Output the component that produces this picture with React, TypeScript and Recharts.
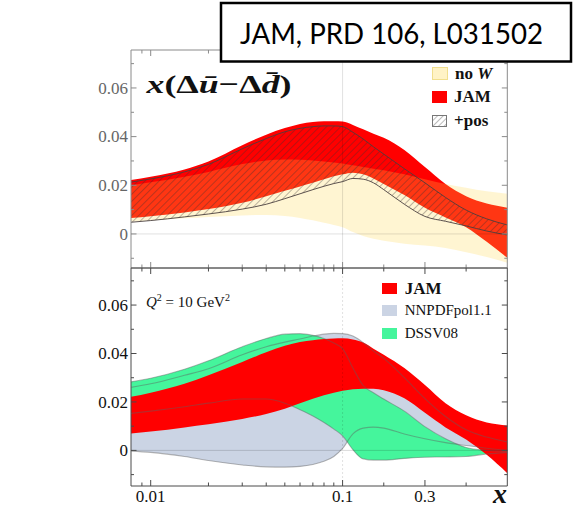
import React from 'react';
import { ComposedChart, Area, Line, XAxis, YAxis, ReferenceLine, ReferenceArea, Legend } from 'recharts';

// sampled x values (shared by both panels)
const X_VALUES = [0.0079, 0.01, 0.015, 0.02, 0.03, 0.04, 0.05, 0.06, 0.07, 0.08, 0.09, 0.1, 0.125, 0.15, 0.175, 0.2, 0.25, 0.3, 0.35, 0.4, 0.45, 0.5];

// upper panel bands
const NOW_LO = [0.005, 0.0055, 0.0064, 0.007, 0.0076, 0.0078, 0.0074, 0.0066, 0.0056, 0.0046, 0.0037, 0.0028, 0.0008, -0.0008, -0.002, -0.0028, -0.004, -0.0048, -0.0058, -0.0075, -0.0095, -0.0118];
const NOW_HI = [0.02, 0.0212, 0.0235, 0.0255, 0.0287, 0.0302, 0.0306, 0.0305, 0.0302, 0.0298, 0.0294, 0.029, 0.0282, 0.0275, 0.0268, 0.0262, 0.0245, 0.0225, 0.0205, 0.019, 0.0175, 0.0165];
const JAM_LO = [0.0066, 0.0073, 0.0088, 0.0102, 0.0128, 0.0155, 0.0177, 0.0195, 0.021, 0.0225, 0.0237, 0.0245, 0.0252, 0.0245, 0.0228, 0.0205, 0.016, 0.0108, 0.0068, 0.0028, -0.0032, -0.0098];
const JAM_HI = [0.0222, 0.0235, 0.0265, 0.0298, 0.0365, 0.0408, 0.0435, 0.0452, 0.046, 0.0463, 0.0463, 0.0462, 0.0448, 0.043, 0.0412, 0.0395, 0.0345, 0.0275, 0.0205, 0.0155, 0.0125, 0.0108];
const POS_LO = [0.0048, 0.0055, 0.007, 0.0082, 0.0102, 0.0122, 0.0145, 0.0165, 0.0182, 0.0196, 0.0207, 0.0215, 0.0228, 0.0225, 0.021, 0.0182, 0.0122, 0.0072, 0.0052, 0.0033, 0.0012, -0.0004];
const POS_HI = [0.0213, 0.0226, 0.0255, 0.0286, 0.035, 0.0392, 0.042, 0.0434, 0.0441, 0.0444, 0.0444, 0.0441, 0.0418, 0.039, 0.0358, 0.0328, 0.0268, 0.021, 0.015, 0.0098, 0.0062, 0.0037];

// lower panel bands
const JAM2_LO = [0.007, 0.0078, 0.0095, 0.0108, 0.013, 0.015, 0.0172, 0.0195, 0.0213, 0.0228, 0.0238, 0.0246, 0.0252, 0.0255, 0.0255, 0.0248, 0.0215, 0.0155, 0.0095, 0.0045, -0.0018, -0.0094];
const JAM2_HI = [0.0221, 0.0238, 0.0275, 0.031, 0.0365, 0.0405, 0.0432, 0.0447, 0.0455, 0.046, 0.0462, 0.0463, 0.0458, 0.0445, 0.042, 0.0395, 0.034, 0.027, 0.0195, 0.0145, 0.0115, 0.0103];
const DSSV_LO = [0.0153, 0.0162, 0.018, 0.0195, 0.0212, 0.0212, 0.0195, 0.0168, 0.0142, 0.0115, 0.0088, 0.006, 0.0003, -0.0035, -0.004, -0.004, -0.0033, -0.0028, -0.0027, -0.0025, -0.0015, -0.0008];
const DSSV_HI = [0.0283, 0.0298, 0.0335, 0.037, 0.0428, 0.0462, 0.048, 0.0482, 0.0475, 0.0462, 0.0443, 0.042, 0.034, 0.0268, 0.0238, 0.0212, 0.0162, 0.0098, 0.0048, 0.0012, 0.0, -0.0004];
const NNPDF_LO = [-0.0003, -0.0008, -0.0025, -0.0042, -0.006, -0.0068, -0.0069, -0.0066, -0.0058, -0.0045, -0.0025, 0.0008, 0.0068, 0.0092, 0.0096, 0.0092, 0.0068, 0.0048, 0.0032, 0.002, 0.0009, 0.0];
const NNPDF_HI = [0.026, 0.0275, 0.031, 0.0337, 0.0395, 0.0428, 0.0447, 0.046, 0.0472, 0.048, 0.0483, 0.0482, 0.0472, 0.0445, 0.041, 0.038, 0.03, 0.0214, 0.014, 0.0085, 0.0055, 0.0035];

// ticks
const X_MAJOR = [0.01, 0.1, 0.3];
const X_MAJOR_LABELS = ['0.01', '0.1', '0.3'];
const X_MINOR = [0.009, 0.02, 0.03, 0.04, 0.05, 0.06, 0.07, 0.08, 0.09, 0.2, 0.4];
const Y_TICKS = [-0.01, 0, 0.01, 0.02, 0.03, 0.04, 0.05, 0.06, 0.07];

// axis is log below x=0.1 and linear above it
const LIN_RATE = 2.1458;
const toU = (x: number) => (x <= 0.1 ? Math.log10(x) : -1 + (x - 0.1) * LIN_RATE);
const U_MIN = -2.1026;
const U_MAX = toU(0.5);
const X_TICKS = [...X_MAJOR, ...X_MINOR].map(toU);

const W = 577;
const PLOT_L = 131;
const PLOT_R = 507.3;
const SERIF = '"Liberation Serif", "DejaVu Serif", serif';

const RED = '#ff0000';
const YELLOW = '#ffd84a';
const GREY_BLUE = '#cbd4e4';
const GREEN = '#45f59c';

const topRows = X_VALUES.map((x, i) => ({
  u: toU(x),
  noW: [NOW_LO[i], NOW_HI[i]],
  jam: [JAM_LO[i], JAM_HI[i]],
  pos: [POS_LO[i], POS_HI[i]],
}));

const bottomRows = X_VALUES.map((x, i) => ({
  u: toU(x),
  jam: [JAM2_LO[i], JAM2_HI[i]],
  dssv: [DSSV_LO[i], DSSV_HI[i]],
  nnpdf: [NNPDF_LO[i], NNPDF_HI[i]],
  dssvLo: DSSV_LO[i],
  dssvHi: DSSV_HI[i],
  nnpdfLo: NNPDF_LO[i],
  nnpdfHi: NNPDF_HI[i],
}));

const yTick = (frame: string, ink: string) => (props: any) => {
  const { y, payload } = props;
  const v: number = payload.value;
  const h = Math.round(v * 100);
  const major = h % 2 === 0;
  const len = major ? 5.5 : 3;
  const label = !major ? '' : h === 0 ? '0' : v.toFixed(2);
  return (
    <g>
      <line x1={PLOT_L} x2={PLOT_L + len} y1={y} y2={y} stroke={frame} />
      <line x1={PLOT_R} x2={PLOT_R - len} y1={y} y2={y} stroke={frame} />
      {label && (
        <text x={PLOT_L - 3} y={y} dy="0.34em" textAnchor="end" fontFamily={SERIF} fontSize={17} fill={ink}>
          {label}
        </text>
      )}
    </g>
  );
};

const xTick = (top: number, bottom: number, frame: string, labelY?: number) => (props: any) => {
  const { x, payload } = props;
  const k = X_MAJOR.findIndex((m) => Math.abs(toU(m) - payload.value) < 1e-6);
  const len = k >= 0 ? 6 : 3.5;
  return (
    <g>
      <line x1={x} x2={x} y1={bottom} y2={bottom - len} stroke={frame} />
      <line x1={x} x2={x} y1={top} y2={top + len} stroke={frame} />
      {labelY !== undefined && k >= 0 && (
        <text x={x} y={labelY} textAnchor="middle" fontFamily={SERIF} fontSize={17} fill="#111">
          {X_MAJOR_LABELS[k]}
        </text>
      )}
    </g>
  );
};

const rowStyle: React.CSSProperties = { display: 'flex', alignItems: 'center', fontFamily: SERIF, fontSize: 17, color: '#111' };

const TopLegend = () => (
  <div>
    <div style={{ ...rowStyle, height: 23.5 }}>
      <span style={{ width: 14, height: 11, background: '#fff3c6', border: '1px solid #f1df8e', marginRight: 7 }} />
      <b>no&nbsp;<i>W</i></b>
    </div>
    <div style={{ ...rowStyle, height: 23.5 }}>
      <span style={{ width: 15, height: 12, background: RED, marginRight: 7 }} />
      <b>JAM</b>
    </div>
    <div style={{ ...rowStyle, height: 23.5 }}>
      <svg width={15} height={12} style={{ marginRight: 7 }}>
        <defs>
          <pattern id="hatchKey" width={4} height={4} patternUnits="userSpaceOnUse" patternTransform="rotate(45)">
            <line x1={0} y1={0} x2={0} y2={4} stroke="#555" strokeWidth={0.8} />
          </pattern>
        </defs>
        <rect x={0.5} y={0.5} width={14} height={11} fill="url(#hatchKey)" stroke="#777" />
      </svg>
      <b>+pos</b>
    </div>
  </div>
);

const BottomLegend = () => (
  <div>
    <div style={{ ...rowStyle, height: 22.1 }}>
      <span style={{ width: 15, height: 11, background: RED, marginRight: 8 }} />
      <b>JAM</b>
    </div>
    <div style={{ ...rowStyle, height: 22.1, fontSize: 15 }}>
      <span style={{ width: 15, height: 11, background: GREY_BLUE, marginRight: 8 }} />
      NNPDFpol1.1
    </div>
    <div style={{ ...rowStyle, height: 22.1, fontSize: 15 }}>
      <span style={{ width: 15, height: 11, background: GREEN, marginRight: 8 }} />
      DSSV08
    </div>
  </div>
);

const TOP_Y: [number, number] = [-0.014, 0.0756];
const BOT_Y: [number, number] = [-0.0147, 0.0753];
const TOP_FRAME = '#8a8a8a';
const BOT_FRAME = '#4a4a4a';

export default function App() {
  return (
    <div style={{ position: 'absolute', left: 0, top: 0, width: W, height: 513, background: '#fff' }}>
      <div style={{ position: 'absolute', left: 0, top: 0 }}>
        <ComposedChart width={W} height={280} data={topRows} margin={{ top: 50, right: W - PLOT_R, bottom: 0, left: 0 }}>
          <defs>
            <pattern id="hatch" width={5} height={5} patternUnits="userSpaceOnUse" patternTransform="rotate(45)">
              <line x1={0} y1={0} x2={0} y2={5} stroke="#3a3030" strokeWidth={0.7} />
            </pattern>
          </defs>
          <XAxis type="number" dataKey="u" domain={[U_MIN, U_MAX]} allowDataOverflow ticks={X_TICKS} interval={0}
            height={12} axisLine={false} tickLine={false} tick={xTick(50, 268, TOP_FRAME)} />
          <YAxis type="number" domain={TOP_Y} allowDataOverflow ticks={Y_TICKS} interval={0} width={PLOT_L}
            axisLine={false} tickLine={false} tick={yTick(TOP_FRAME, '#666')} />
          <Area type="monotone" dataKey="jam" fill={RED} fillOpacity={1} stroke="none" isAnimationActive={false} />
          <Area type="monotone" dataKey="noW" fill={YELLOW} fillOpacity={0.25} stroke="none" isAnimationActive={false} />
          <Area type="monotone" dataKey="pos" fill="url(#hatch)" fillOpacity={1} stroke="#4a4040" strokeWidth={0.9} isAnimationActive={false} />
          <ReferenceLine y={0} stroke="#000" strokeOpacity={0.12} />
          <ReferenceLine x={toU(0.1)} stroke="#000" strokeOpacity={0.12} />
          <ReferenceArea x1={U_MIN} x2={U_MAX} y1={TOP_Y[0]} y2={TOP_Y[1]} fill="none" stroke={TOP_FRAME} strokeWidth={1} />
          <Legend layout="vertical" align="center" verticalAlign="middle" content={() => <TopLegend />}
            wrapperStyle={{ left: 432, top: 62, width: 110, height: 71 }} />
        </ComposedChart>
      </div>
      <div style={{ position: 'absolute', left: 0, top: 256 }}>
        <ComposedChart width={W} height={257} data={bottomRows} margin={{ top: 12, right: W - PLOT_R, bottom: 0, left: 0 }}>
          <XAxis type="number" dataKey="u" domain={[U_MIN, U_MAX]} allowDataOverflow ticks={X_TICKS} interval={0}
            height={27} axisLine={false} tickLine={false} tick={xTick(12, 230, BOT_FRAME, 246)} />
          <YAxis type="number" domain={BOT_Y} allowDataOverflow ticks={Y_TICKS} interval={0} width={PLOT_L}
            axisLine={false} tickLine={false} tick={yTick(BOT_FRAME, '#111')} />
          <Area type="monotone" dataKey="nnpdf" fill={GREY_BLUE} fillOpacity={1} stroke="none" isAnimationActive={false} />
          <Area type="monotone" dataKey="dssv" fill={GREEN} fillOpacity={1} stroke="none" isAnimationActive={false} />
          <Area type="monotone" dataKey="jam" fill={RED} fillOpacity={1} stroke="none" isAnimationActive={false} />
          <Line type="monotone" dataKey="nnpdfHi" stroke="#606060" strokeOpacity={0.45} strokeWidth={1.1} dot={false} activeDot={false} isAnimationActive={false} />
          <Line type="monotone" dataKey="nnpdfLo" stroke="#606060" strokeOpacity={0.45} strokeWidth={1.1} dot={false} activeDot={false} isAnimationActive={false} />
          <Line type="monotone" dataKey="dssvHi" stroke="#606060" strokeOpacity={0.45} strokeWidth={1.1} dot={false} activeDot={false} isAnimationActive={false} />
          <Line type="monotone" dataKey="dssvLo" stroke="#606060" strokeOpacity={0.45} strokeWidth={1.1} dot={false} activeDot={false} isAnimationActive={false} />
          <ReferenceLine y={0} stroke="#000" strokeOpacity={0.15} />
          <ReferenceLine x={toU(0.1)} stroke="#000" strokeOpacity={0.12} strokeDasharray="2 2" />
          <ReferenceArea x1={U_MIN} x2={U_MAX} y1={BOT_Y[0]} y2={BOT_Y[1]} fill="none" stroke={BOT_FRAME} strokeWidth={1} />
          <Legend layout="vertical" align="center" verticalAlign="middle" content={() => <BottomLegend />}
            wrapperStyle={{ left: 381.7, top: 21.8, width: 130, height: 67 }} />
        </ComposedChart>
      </div>
      <svg width={W} height={513} style={{ position: 'absolute', left: 0, top: 0, pointerEvents: 'none' }}>
        <text x={146.5} y={93} fontFamily={SERIF} fontSize={26} fontWeight="bold" fill="#111" textLength={145} lengthAdjust="spacingAndGlyphs">
          <tspan fontStyle="italic">x</tspan>(Δ<tspan fontStyle="italic">ū</tspan>{'\u2212'}Δ<tspan fontStyle="italic">{'d\u0304'}</tspan>)
        </text>
        <text x={146} y={306.5} fontFamily={SERIF} fontSize={15} fill="#111">
          <tspan fontStyle="italic">Q</tspan>
          <tspan dy={-6} fontSize={10}>2</tspan>
          <tspan dy={6}>{'\u00A0=\u00A010\u00A0GeV'}</tspan>
          <tspan dy={-6} fontSize={10}>2</tspan>
        </text>
        <text x={507} y={503} textAnchor="end" fontFamily={SERIF} fontSize={28} fontWeight="bold" fontStyle="italic" fill="#111">x</text>
        <rect x={221} y={3} width={350} height={58.5} fill="#fff" stroke="#000" strokeWidth={2.5} />
        <text x={240} y={43.5} fontFamily="Lato, 'Open Sans', sans-serif" fontSize={28} fill="#000" textLength={303} lengthAdjust="spacingAndGlyphs">
          JAM, PRD 106, L031502
        </text>
      </svg>
    </div>
  );
}
